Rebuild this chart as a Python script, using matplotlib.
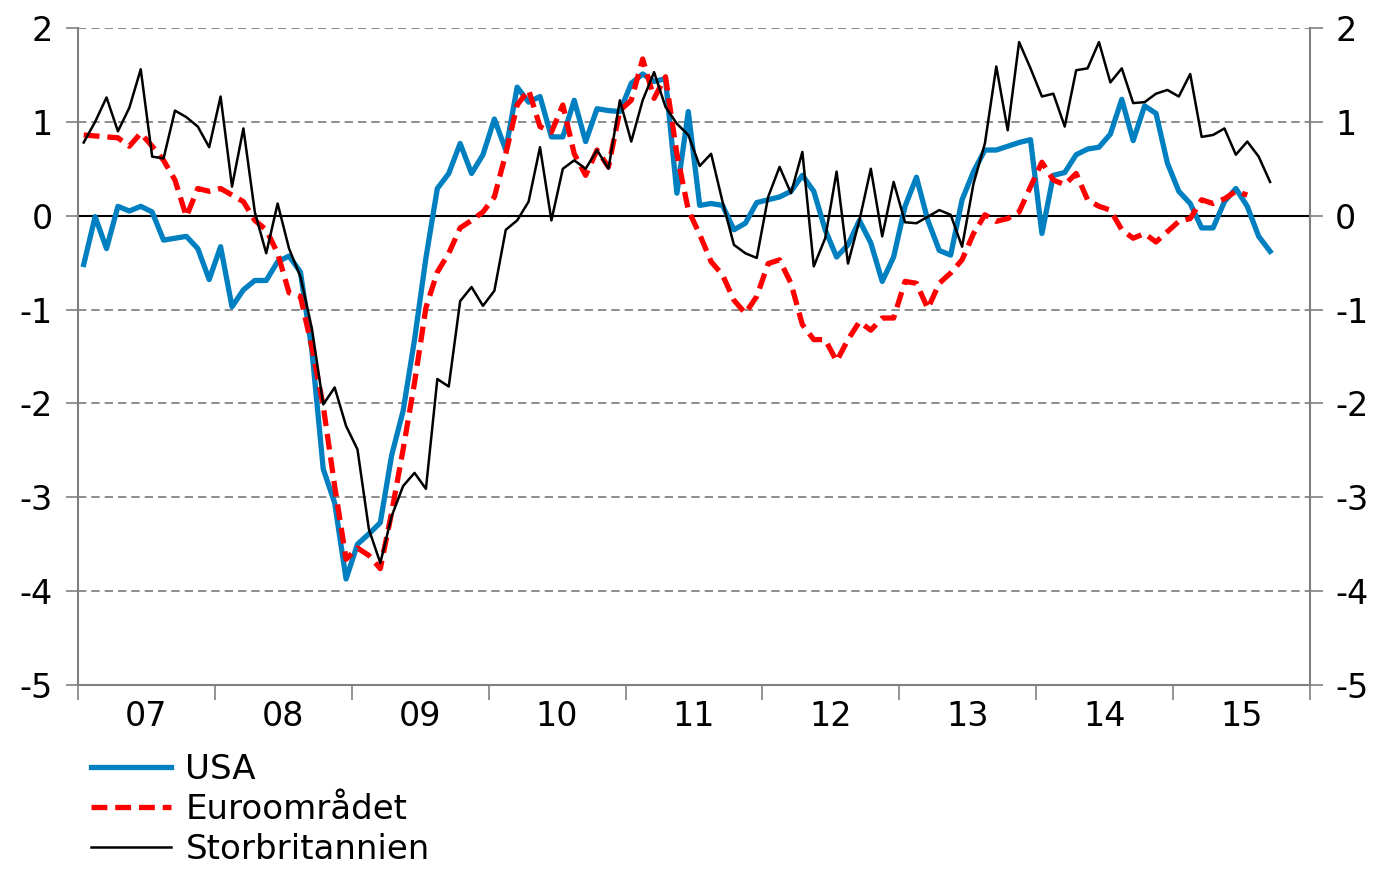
import numpy as np
import matplotlib
matplotlib.use("Agg")
import matplotlib.pyplot as plt

# månadsdata jan 2007 - sep 2015
years = ["07", "08", "09", "10", "11", "12", "13", "14", "15"]

usa = [-0.52, -0.01, -0.35, 0.10, 0.05, 0.10, 0.04, -0.26, -0.24, -0.22, -0.35, -0.68,
       -0.33, -0.97, -0.79, -0.69, -0.69, -0.49, -0.43, -0.60, -1.43, -2.70, -3.06, -3.87,
       -3.50, -3.39, -3.27, -2.55, -2.08, -1.32, -0.45, 0.29, 0.45, 0.77, 0.45, 0.65,
       1.03, 0.70, 1.37, 1.21, 1.27, 0.84, 0.84, 1.23, 0.79, 1.14, 1.12, 1.11,
       1.41, 1.51, 1.43, 1.46, 0.24, 1.11, 0.11, 0.13, 0.11, -0.15, -0.08, 0.14,
       0.17, 0.20, 0.26, 0.43, 0.26, -0.15, -0.44, -0.31, -0.05, -0.29, -0.70, -0.44,
       0.10, 0.41, -0.05, -0.37, -0.42, 0.17, 0.47, 0.70, 0.70, 0.74, 0.78, 0.81,
       -0.19, 0.43, 0.46, 0.65, 0.71, 0.73, 0.87, 1.24, 0.80, 1.17, 1.09, 0.56,
       0.26, 0.13, -0.13, -0.13, 0.15, 0.29, 0.10, -0.22, -0.38]

euro = [0.86, 0.85, 0.84, 0.83, 0.74, 0.88, 0.74, 0.59, 0.38, -0.01, 0.29, 0.26,
        0.29, 0.22, 0.15, -0.05, -0.15, -0.40, -0.82, -0.86, -1.40, -2.03, -2.88, -3.66,
        -3.54, -3.62, -3.76, -3.16, -2.49, -1.78, -0.98, -0.60, -0.40, -0.13, -0.05, 0.04,
        0.20, 0.66, 1.18, 1.34, 0.95, 0.89, 1.18, 0.66, 0.43, 0.70, 0.52, 1.12,
        1.23, 1.67, 1.25, 1.48, 0.66, 0.06, -0.20, -0.49, -0.63, -0.90, -1.04, -0.86,
        -0.51, -0.47, -0.72, -1.16, -1.32, -1.32, -1.55, -1.32, -1.13, -1.22, -1.09, -1.09,
        -0.70, -0.72, -0.99, -0.72, -0.61, -0.47, -0.19, 0.01, -0.06, -0.03, 0.04, 0.31,
        0.57, 0.38, 0.33, 0.45, 0.17, 0.10, 0.06, -0.15, -0.24, -0.19, -0.28, -0.17,
        -0.06, -0.03, 0.17, 0.13, 0.18, 0.26, 0.22]

uk = [0.78, 1.00, 1.26, 0.90, 1.15, 1.56, 0.63, 0.61, 1.12, 1.05, 0.95, 0.73,
      1.27, 0.31, 0.93, 0.04, -0.40, 0.13, -0.35, -0.65, -1.20, -2.01, -1.83, -2.24,
      -2.49, -3.34, -3.70, -3.20, -2.88, -2.74, -2.91, -1.74, -1.82, -0.91, -0.76, -0.96,
      -0.80, -0.15, -0.05, 0.15, 0.73, -0.05, 0.50, 0.59, 0.50, 0.70, 0.50, 1.23,
      0.79, 1.23, 1.53, 1.16, 0.98, 0.86, 0.53, 0.66, 0.15, -0.31, -0.40, -0.45,
      0.20, 0.52, 0.24, 0.68, -0.54, -0.24, 0.47, -0.51, -0.05, 0.50, -0.22, 0.36,
      -0.07, -0.08, -0.01, 0.06, 0.01, -0.33, 0.34, 0.77, 1.59, 0.91, 1.85, 1.57,
      1.27, 1.30, 0.95, 1.55, 1.57, 1.85, 1.42, 1.57, 1.20, 1.21, 1.30, 1.34,
      1.27, 1.51, 0.84, 0.86, 0.93, 0.65, 0.79, 0.63, 0.36]

plt.rcParams['font.family'] = ['DejaVu Sans']
plt.rcParams['axes.unicode_minus'] = False

fig = plt.figure(figsize=(13.79, 8.69), dpi=100)
ax = fig.add_axes([78/1379, 1 - 685/869, (1310 - 78)/1379, (685 - 28)/869])

# gridlinjer
for v in range(-4, 3):
    if v == 0:
        ax.axhline(0, color='black', lw=1.5, zorder=1)
    else:
        ax.axhline(v, color='#7a7a7a', lw=1.2, ls=(0, (5, 3)), zorder=1)

ax.plot(np.arange(len(usa)), usa, color='#0080C0', lw=3.8, label='USA', zorder=2)
ax.plot(np.arange(len(euro)), euro, color='#FF0000', lw=3.8, ls=(0, (3, 1.5)),
        label='Euroområdet', zorder=3)
ax.plot(np.arange(len(uk)), uk, color='black', lw=1.8, label='Storbritannien', zorder=4)

ax.set_xlim(-0.5, 107.5)
ax.set_ylim(-5, 2)

ax.set_xticks(np.arange(-0.5, 108, 12))
ax.set_xticklabels([])
ax.set_xticks(np.arange(5.5, 108, 12), minor=True)
ax.set_xticklabels(years, minor=True)
ax.tick_params(axis='x', which='major', length=11, width=1.2, color='#808080', direction='out')
ax.tick_params(axis='x', which='minor', length=0, pad=11, labelsize=24)

ax.set_yticks(range(-5, 3))
ax.tick_params(axis='y', left=True, right=True, labelleft=True, labelright=True,
               length=9, width=1.2, color='#808080', labelsize=24, pad=9, direction='out')

ax.spines['top'].set_visible(False)
for s in ['left', 'right', 'bottom']:
    ax.spines[s].set_color('#808080')
    ax.spines[s].set_linewidth(1.5)

fig.legend(loc='upper left', bbox_to_anchor=(91/1379, 1 - 753/869), frameon=False,
           fontsize=24.5, handlelength=2.35, handletextpad=0.42, labelspacing=0.2,
           borderaxespad=0, borderpad=0)

fig.savefig('out.png', dpi=100)
